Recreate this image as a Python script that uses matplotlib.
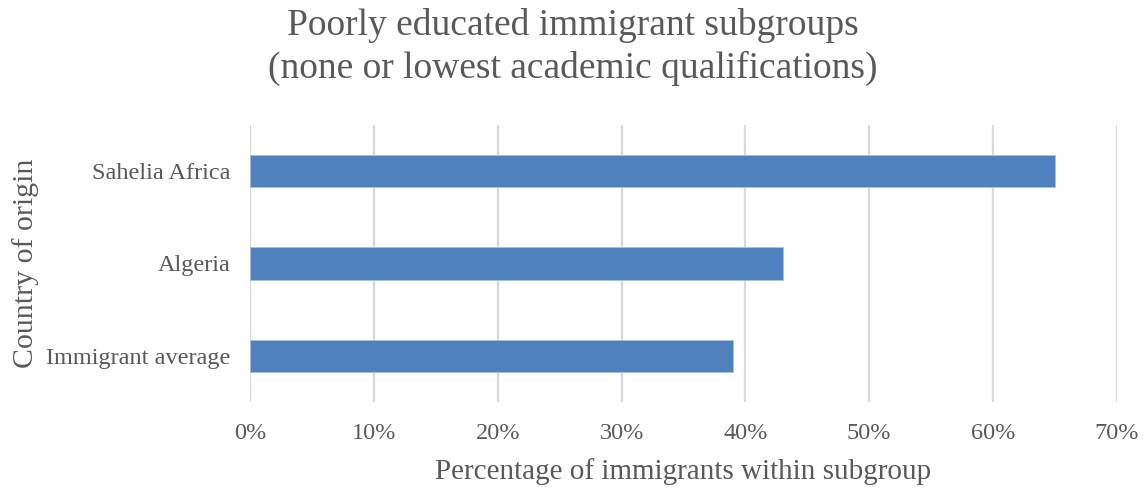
import matplotlib
matplotlib.use("Agg")
import matplotlib.pyplot as plt
from matplotlib.ticker import FuncFormatter

plt.rcParams['font.family'] = ['Liberation Serif', 'DejaVu Serif']

# Data
categories = ["Immigrant average", "Algeria", "Sahelia Africa"]
shares = [39, 43, 65]  # percent of immigrants with none / lowest qualifications
x_ticks = [0, 10, 20, 30, 40, 50, 60, 70]

text_color = "#595959"
bar_color = "#4F81BD"
grid_color = "#D9D9D9"

fig = plt.figure(figsize=(11.45, 4.91), dpi=100)
ax = fig.add_axes([0.2183, 0.1813, 0.7572, 0.5641])

ax.barh(range(len(categories)), shares, height=0.35, color=bar_color,
        edgecolor="#A7C1E4", linewidth=0.6, zorder=3)

ax.set_xlim(0, 70)
ax.set_ylim(-0.5, len(categories) - 0.5)
ax.set_xticks(x_ticks)
ax.xaxis.set_major_formatter(FuncFormatter(lambda v, p: f"{v:.0f}%"))
ax.set_yticks(range(len(categories)))
ax.set_yticklabels(categories)

ax.grid(axis="x", color=grid_color, linewidth=1.6, zorder=0)
for s in ax.spines.values():
    s.set_visible(False)
ax.tick_params(axis="both", length=0, labelcolor=text_color)
ax.tick_params(axis="x", pad=15, labelsize=17.5)
ax.tick_params(axis="y", pad=14, labelsize=17.5)

ax.set_xlabel("Percentage of immigrants within subgroup", fontsize=21,
              color=text_color, labelpad=10)
ax.set_ylabel("Country of origin", fontsize=21.5, color=text_color, labelpad=5)

fig.text(0.5, 0.984, "Poorly educated immigrant subgroups\n(none or lowest academic qualifications)",
         ha="center", va="top", fontsize=27, color=text_color, linespacing=1.3)

fig.savefig("out.png", dpi=100, facecolor="white")
